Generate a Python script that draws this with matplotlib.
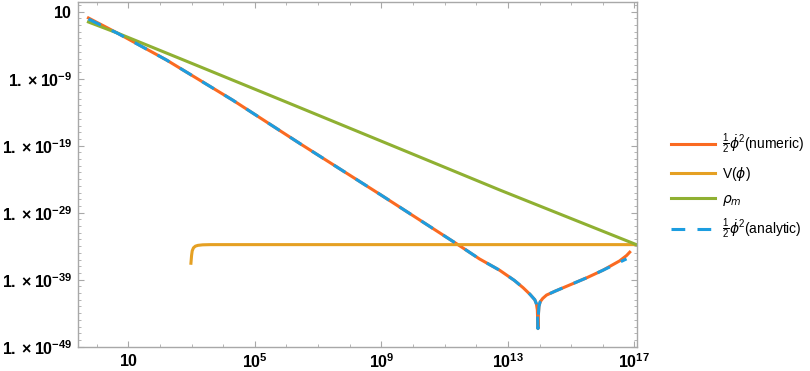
import matplotlib
matplotlib.use('Agg')
import matplotlib.pyplot as plt
import numpy as np

plt.rcParams['font.family'] = ['Liberation Sans', 'DejaVu Sans']
plt.rcParams['mathtext.fontset'] = 'custom'
plt.rcParams['mathtext.rm'] = 'Liberation Sans'
plt.rcParams['mathtext.it'] = 'DejaVu Sans:italic'
plt.rcParams['mathtext.bf'] = 'Liberation Sans:bold'
plt.rcParams['mathtext.fallback'] = 'stixsans'

# data, stored as log10 values
kin_lx = [-0.26, 0.65, 2.21, 4.3, 6.42, 9.0, 11.42, 12.1, 12.74, 13.2, 13.48, 13.7, 13.85, 13.9, 13.93, 13.95,
          13.96, 13.98, 14.02, 14.1, 14.22, 14.5, 15.0, 15.5, 16.0, 16.53, 16.75, 16.85]
kin_ly = [0.06, -2.18, -6.22, -12.2, -18.67, -26.4, -33.77, -35.9, -37.6, -39.1, -40.2, -41.2, -42.0, -42.6, -43.5, -46.3,
          -44.5, -43.0, -42.3, -41.8, -41.3, -40.7, -39.7, -38.7, -37.6, -36.2, -35.4, -34.9]
ana_lx = [-0.26, 0.65, 2.21, 4.3, 6.42, 9.0, 11.42, 12.1, 12.74, 13.2, 13.48, 13.7, 13.85, 13.9, 13.93, 13.95,
          13.96, 13.98, 14.02, 14.1, 14.22, 14.5, 15.0, 15.5, 16.0, 16.53, 16.75]
ana_ly = [-0.1, -2.2, -6.22, -12.2, -18.67, -26.4, -33.77, -35.9, -37.6, -39.1, -40.2, -41.2, -42.0, -42.6, -43.5, -46.3,
          -44.5, -43.0, -42.3, -41.8, -41.3, -40.7, -39.7, -38.7, -37.6, -36.4, -35.9]
pot_lx = [2.98, 3.0, 3.02, 3.06, 3.12, 3.2, 3.35, 3.6, 17.05]
pot_ly = [-36.55, -35.4, -34.7, -34.25, -34.0, -33.88, -33.8, -33.77, -33.77]
rho_lx = [-0.26, 0.65, 3.0, 6.0, 9.69, 12.76, 17.05]
rho_ly = [-0.54, -2.18, -6.7, -12.5, -19.67, -25.65, -33.75]

xtick_exp = [1, 5, 9, 13, 17]
xtick_lab = [r'$\mathbf{10}$', r'$\mathbf{10^{5}}$', r'$\mathbf{10^{9}}$', r'$\mathbf{10^{13}}$', r'$\mathbf{10^{17}}$']
ytick_exp = [1, -9, -19, -29, -39, -49]
ytick_lab = [r'$\mathbf{10}$'] + [r'$\mathbf{1.\times10^{%d}}$' % e for e in ytick_exp[1:]]

def p(v):
    return 10.0 ** np.array(v)

fig = plt.figure(figsize=(8.1, 3.71), dpi=100)
ax = fig.add_axes([0.0963, 0.0647, 0.6901, 0.93])

ax.plot(p(kin_lx), p(kin_ly), color='#FA6A21', lw=2.2, label=r'$\frac{1}{2}\dot{\phi}^2$(numeric)')
ax.plot(p(pot_lx), p(pot_ly), color='#E5A023', lw=2.2, label=r'V($\phi$)')
ax.plot(p(rho_lx), p(rho_ly), color='#8FB032', lw=2.2, label=r'$\rho_m$')
ax.plot(p(ana_lx), p(ana_ly), color='#1C9DE0', lw=2.2, ls=(0, (4.5, 4)), label=r'$\frac{1}{2}\dot{\phi}^2$(analytic)')

ax.set_xscale('log')
ax.set_yscale('log')
ax.set_xlim(10 ** -0.59, 10 ** 17.08)
ax.set_ylim(10 ** -49.05, 10 ** 2.45)

ax.set_xticks(p(xtick_exp), xtick_lab)
ax.set_xticks(p(np.arange(0, 18)), minor=True)
ax.set_yticks(p(ytick_exp), ytick_lab)
ax.set_yticks(p(np.arange(-49, 3)), minor=True)
ax.xaxis.set_minor_formatter(matplotlib.ticker.NullFormatter())
ax.yaxis.set_minor_formatter(matplotlib.ticker.NullFormatter())

gray = '#A8A8A8'
for s in ax.spines.values():
    s.set_color(gray)
    s.set_linewidth(1.0)
ax.tick_params(which='both', direction='in', top=True, right=True, color=gray, labelsize=11.5, labelcolor='black')
ax.tick_params(which='major', length=4.5, width=0.8)
ax.tick_params(which='minor', length=2.5, width=0.6)
ax.tick_params(axis='x', pad=4)
ax.tick_params(axis='y', pad=4)

leg = fig.legend(loc='upper left', bbox_to_anchor=(0.813, 0.68), frameon=False, fontsize=10,
                 handlelength=3.2, handletextpad=0.5, labelspacing=0.65)

fig.savefig('out.png', dpi=100)
